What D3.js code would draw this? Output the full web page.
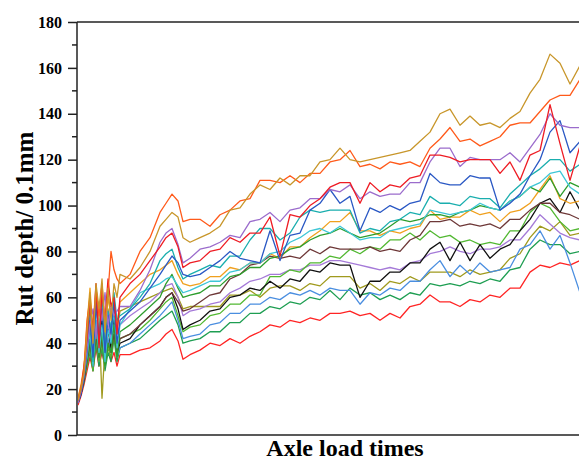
<!DOCTYPE html>
<html>
<head>
<meta charset="utf-8">
<script src="https://cdn.jsdelivr.net/npm/d3@7"></script>
<style>
  body { margin: 0; background: #fff; }
  svg { display: block; }
</style>
</head>
<body>
<script>
var width = 579,
    height = 460;

// load times (x), same grid for every series
var loadTimes = [0,3,6,9,12,15,18,21,24,27,30,33,36,39,42,52,62,72,82,88,94,100,105,112,
  122,132,142,152,162,172,182,192,202,212,222,232,242,252,262,272,282,292,302,312,322,332,342,352,362,372,382,392,402,412,422,432,442,452,462,472,482,492,502];

// rut depth (0.1 mm) per test
var gold = [15,20,27,45,62,40,66,55,68,45,64,50,66,60,70, 68,73,80,91,94,97,95,86,84,
  86,88,91,98,99,105,109,107,112,109,113,113,119,120,125,120,119,120,121,122,123,124,128,132,140,142,135,139,135,136,134,138,141,149,155,166,162,153,161];
var orangeRed = [16,21,28,50,60,42,64,52,66,48,62,80,72,68,66, 70,80,86,97,101,105,102,93,94,
  94,91,96,98,102,103,111,111,110,113,110,114,114,119,120,124,117,118,116,119,118,119,117,125,129,134,128,129,126,128,130,135,136,136,141,146,148,148,155];
var red = [15,20,30,42,58,46,66,38,62,50,68,56,60,44,60, 66,70,76,82,86,88,82,73,75,
  76,80,81,86,84,88,88,95,78,96,95,100,103,108,110,110,101,110,106,109,108,112,113,122,122,121,119,120,120,120,114,119,111,122,124,144,127,111,126];
var purple = [14,19,26,38,48,55,42,58,50,62,48,56,52,54,56, 56,63,72,84,88,90,83,75,77,
  81,82,84,87,86,93,94,97,93,98,99,103,103,107,106,109,103,106,104,105,105,110,110,119,125,125,117,121,120,120,120,123,119,125,131,140,135,134,134];
var blue = [14,18,25,36,50,34,58,40,55,36,52,44,58,40,50, 54,58,64,70,74,78,75,70,69,
  70,73,76,80,77,76,75,89,76,87,88,98,101,107,101,104,89,99,97,100,98,101,102,114,110,109,109,113,112,112,98,101,105,113,120,132,137,123,128];
var teal = [15,19,26,40,52,32,56,44,60,38,54,46,62,50,52, 55,60,66,76,79,81,73,68,70,
  72,74,73,78,78,85,90,90,85,88,95,98,97,98,98,98,88,90,89,93,94,97,96,104,101,101,100,104,103,103,99,105,109,113,116,120,120,115,118];
var cyan = [16,20,27,34,45,30,50,36,48,32,46,40,54,38,48, 55,62,64,66,68,69,65,62,63,
  65,67,67,71,72,75,75,79,80,84,86,89,90,88,91,88,85,86,86,89,90,91,92,98,97,96,97,98,101,99,98,102,104,108,110,114,115,108,105];
var green = [15,19,25,33,42,30,46,34,44,30,40,36,48,34,45, 48,52,56,60,66,70,64,60,61,
  62,65,65,69,70,73,73,77,78,81,82,85,87,88,90,88,86,87,88,91,94,93,94,96,96,95,97,98,100,99,98,102,104,108,106,112,104,110,108];
var orange = [16,22,30,48,64,44,60,50,64,42,60,52,58,48,58, 62,66,70,72,74,76,70,66,65,
  66,69,69,73,72,75,75,79,77,82,82,86,89,93,93,97,89,89,87,89,88,90,91,98,94,95,95,98,96,97,93,97,98,101,107,113,103,101,102];
var brown = [14,18,24,32,40,30,44,34,42,32,40,36,44,36,42, 44,48,52,56,60,62,58,54,55,
  58,61,62,68,70,74,75,78,77,78,77,81,79,82,81,81,81,82,80,81,80,85,87,93,93,94,91,92,91,92,90,94,94,98,101,101,97,96,94];
var black = [14,18,24,34,44,32,48,36,50,34,46,38,52,36,40, 42,48,52,56,60,62,55,46,48,
  50,54,55,60,61,64,63,67,64,68,67,72,71,75,74,74,60,67,67,71,71,75,75,81,84,76,84,76,83,77,81,83,89,94,101,103,97,106,98];
var lightGreen = [15,19,24,30,38,28,42,32,40,30,38,34,44,34,42, 44,46,50,55,58,60,52,45,47,
  48,52,53,57,57,61,61,69,69,72,71,75,75,78,77,81,79,82,81,85,85,88,85,89,86,87,84,85,83,84,83,89,89,97,101,99,93,89,90];
var lavender = [15,19,25,34,46,36,50,40,52,38,48,42,50,44,48, 52,55,58,62,65,66,60,52,54,
  55,57,58,62,64,67,68,70,70,72,72,74,74,76,76,75,74,73,72,73,72,75,76,79,80,82,80,79,81,81,82,85,85,90,96,92,88,86,85];
var skyBlue = [14,18,24,32,40,30,44,32,46,30,42,36,48,34,38, 40,44,48,52,55,58,50,42,43,
  44,48,49,53,53,57,57,60,59,62,61,63,61,64,63,63,57,62,61,64,63,67,67,72,76,69,74,70,75,71,72,73,81,83,89,81,87,75,62];
var olive = [15,20,28,42,55,40,60,50,16,38,55,44,52,46,54, 56,58,60,62,63,64,60,55,56,
  56,56,56,61,61,63,60,64,65,65,63,66,65,69,69,69,64,66,63,67,66,69,67,71,71,71,69,72,70,71,72,77,79,86,91,89,93,87,88];
var seaGreen = [14,18,23,30,36,28,40,30,38,28,36,32,42,32,38, 40,42,46,50,52,54,48,40,41,
  42,45,45,49,49,53,53,56,55,58,57,60,59,63,59,64,61,62,59,61,59,62,61,66,65,66,65,67,66,68,67,72,73,81,85,83,83,79,80];
var lowRed = [13,17,22,28,34,28,38,30,36,30,40,32,36,30,35, 35,37,38,41,44,46,41,33,35,
  37,40,39,42,40,43,45,48,47,50,49,51,50,53,53,54,52,53,50,53,51,56,57,61,58,58,56,59,58,61,60,64,64,71,74,73,75,74,76];

var yTicks = [0, 20, 40, 60, 80, 100, 120, 140, 160, 180];
var yMinor = [10, 30, 50, 70, 90, 110, 130, 150, 170];

// drawing order bottom -> top, with colours
var series = [lowRed, seaGreen, olive, skyBlue, lavender, lightGreen, black, brown, orange,
  green, cyan, teal, blue, purple, red, orangeRed, gold];
var colors = ["#ff2424", "#1e9e52", "#a09a1e", "#4a8ee0", "#a57ad8", "#52b832", "#111111", "#6e3838", "#f0a01e",
  "#2e9e2e", "#3ec6d6", "#1aaeae", "#2a58c4", "#9b6ccc", "#ee1c24", "#ff5a1a", "#c8962a"];

var serif = "'Liberation Serif', 'Times New Roman', serif";

var svg = d3.select("body").append("svg").attr("width", width).attr("height", height);

var x = d3.scaleLinear().domain([0, 502]).range([78, 580]);
var y = d3.scaleLinear().domain([0, 180]).range([435, 22]);

svg.append("clipPath").attr("id", "plot")
  .append("rect").attr("x", 78).attr("y", 22).attr("width", 520).attr("height", 413);

var line = d3.line()
  .x(function (d, i) { return x(loadTimes[i]); })
  .y(function (d) { return y(d); });

var g = svg.append("g").attr("clip-path", "url(#plot)");
g.selectAll("path").data(series).enter().append("path")
  .attr("d", line)
  .attr("fill", "none")
  .attr("stroke", (d, i) => colors[i])
  .attr("stroke-width", 1.3)
  .attr("stroke-linejoin", "round");

// frame: top and bottom lines
svg.append("line").attr("x1", 77).attr("x2", width).attr("y1", y(180)).attr("y2", y(180))
  .attr("stroke", "#222").attr("stroke-width", 1.5);
svg.append("line").attr("x1", 77).attr("x2", width).attr("y1", y(0)).attr("y2", y(0))
  .attr("stroke", "#222").attr("stroke-width", 1.5);

// y axis
var yAxis = svg.append("g").attr("transform", "translate(77,0)")
  .call(d3.axisLeft(y).tickValues(yTicks).tickSize(9).tickPadding(6).tickFormat(d3.format("d")));
yAxis.selectAll("text")
  .style("font-family", serif).style("font-size", "16px").style("font-weight", "bold")
  .attr("fill", "#000");
yAxis.selectAll("path, line").attr("stroke", "#222").attr("stroke-width", 1.5);
yAxis.select(".domain").attr("d", "M0," + y(180) + "V" + y(0));

svg.append("g").attr("transform", "translate(77,0)")
  .selectAll("line").data(yMinor).enter().append("line")
  .attr("x1", -5).attr("x2", 0)
  .attr("y1", (d) => y(d)).attr("y2", (d) => y(d))
  .attr("stroke", "#222").attr("stroke-width", 1.5);

// titles
svg.append("text")
  .attr("transform", "translate(33," + ((y(0) + y(180)) / 2) + ") rotate(-90)")
  .attr("text-anchor", "middle")
  .style("font-family", serif)
  .style("font-weight", "bold").style("font-size", "25px")
  .text("Rut depth/ 0.1mm");

svg.append("text")
  .attr("x", 345).attr("y", 456)
  .attr("text-anchor", "middle")
  .style("font-family", serif)
  .style("font-weight", "bold").style("font-size", "24px")
  .text("Axle load times");
</script>
</body>
</html>
